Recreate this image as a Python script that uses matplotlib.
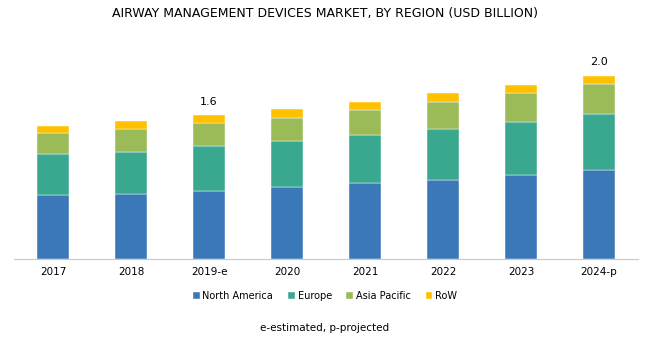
import numpy as np
import matplotlib.pyplot as plt

# market size by region, USD billion
years = ['2017', '2018', '2019-e', '2020', '2021', '2022', '2023', '2024-p']
north_america = [0.70, 0.71, 0.75, 0.79, 0.83, 0.87, 0.92, 0.98]
europe = [0.45, 0.47, 0.49, 0.51, 0.53, 0.56, 0.59, 0.61]
asia_pacific = [0.23, 0.25, 0.25, 0.25, 0.28, 0.30, 0.31, 0.33]
row = [0.08, 0.09, 0.09, 0.095, 0.085, 0.09, 0.095, 0.095]

labelled = {2: '1.6', 7: '2.0'}

colors = ['#3a78b8', '#3aa78f', '#9bbb59', '#ffc000']
names = ['North America', 'Europe', 'Asia Pacific', 'RoW']

fig = plt.figure(figsize=(6.5, 3.43), dpi=100)
ax = fig.add_axes([14 / 650, 84 / 343, 624 / 650, 219 / 343])

x = np.arange(len(years))
bottom = np.zeros(len(years))
for vals, c, n in zip([north_america, europe, asia_pacific, row], colors, names):
    ax.bar(x, vals, 0.41, bottom=bottom, color=c, label=n, edgecolor='white', linewidth=0.3)
    bottom += np.array(vals)

for i, txt in labelled.items():
    ax.text(x[i], bottom[i] + 0.09, txt, ha='center', va='bottom', fontsize=8)

ax.set_xlim(-0.5, 7.5)
ax.set_ylim(0, 219 / 91)
ax.set_yticks([])
ax.set_xticks(x)
ax.set_xticklabels(years, fontsize=7.5)
ax.tick_params(axis='x', length=0, pad=6)
for s in ['top', 'right', 'left']:
    ax.spines[s].set_visible(False)
ax.spines['bottom'].set_color('#c8c8c8')

fig.text(0.5, 1 - 13 / 343, 'AIRWAY MANAGEMENT DEVICES MARKET, BY REGION (USD BILLION)',
         ha='center', va='center', fontsize=9)

fig.legend(loc='center', bbox_to_anchor=(0.5, 1 - 296 / 343), ncol=4, frameon=False,
           fontsize=7, handlelength=0.7, handleheight=0.7, handletextpad=0.3, columnspacing=1.5)

fig.text(0.5, 1 - 328 / 343, 'e-estimated, p-projected', ha='center', va='center', fontsize=7.5)

fig.savefig('out.png', dpi=100)
